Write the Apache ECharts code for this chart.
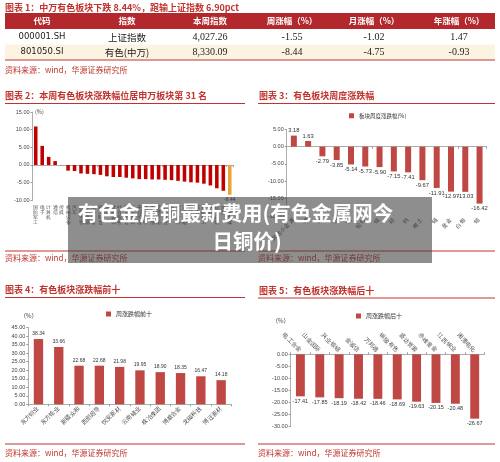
<!DOCTYPE html>
<html><head><meta charset="utf-8">
<script src="https://cdn.jsdelivr.net/npm/echarts@6/dist/echarts.min.js"></script>
<style>html,body{margin:0;padding:0;background:#fff}#c{width:500px;height:462px}</style>
</head><body><div id="c"></div>
<script>
// ---- data ----
const tableHeaders = ['代码', '指数', '本周指数', '周涨幅（%）', '月涨幅（%）', '年涨幅（%）'];
const tableRow1 = ['000001.SH', '上证指数', '4,027.26', '-1.55', '-1.02', '1.47'];
const tableRow2 = ['801050.SI', '有色(中万)', '8,330.09', '-8.44', '-4.75', '-0.93'];

const swNames = ['国防军工', '电子', '计算机', '通信', '传媒', '机械设备', '汽车', '医药生物', '家用电器', '电力设备', '轻工制造', '环保', '建筑装饰', '社会服务', '商贸零售', '纺织服饰', '美容护理', '食品饮料', '农林牧渔', '交通运输', '公用事业', '房地产', '建筑材料', '非银金融', '银行', '综合', '基础化工', '钢铁', '石油石化', '煤炭', '有色金属'];
const swValues = [10.9, 5.4, 2.3, 1.1, -0.05, -1.6, -1.7, -2.4, -2.5, -2.6, -2.8, -3.2, -3.4, -3.4, -3.6, -3.8, -4.0, -4.0, -4.1, -4.1, -4.2, -4.3, -4.5, -4.7, -4.9, -5.0, -5.3, -5.8, -6.6, -7.3, -8.44];

const subNames = ['其他小金属', '锂', '钴', '铝', '铜', '铅锌', '镍', '硅', '钨', '稀土', '锡', '黄金', '白银', '钼'];
const subValues = [3.18, 1.63, -2.79, -3.85, -5.14, -5.73, -5.90, -7.15, -7.41, -9.67, -11.91, -12.97, -13.03, -16.42];

const topNames = ['东方钽业', '东方锆业', '新疆众和', '西部超导', '悦安新材', '云南锗业', '株冶集团', '博威合金', '龙磁科技', '博迁新材'];
const topValues = [38.34, 33.66, 22.68, 22.68, 21.98, 19.95, 18.90, 18.35, 16.47, 14.18];

const bottomNames = ['电工合金', '山金国际', '兴业银锡', '金诚信', '万邦德', '铜陵有色', '盛达资源', '赤峰黄金', '江西铜业', '湘潭电化'];
const bottomValues = [-17.41, -17.85, -18.19, -18.42, -18.46, -18.69, -19.63, -20.15, -20.48, -26.67];

const titles = [
  '图表 1：中万有色板块下跌 8.44%，跑输上证指数 6.90pct',
  '图表 2：本周有色板块涨跌幅位居申万板块第 31 名',
  '图表 3：有色板块周度涨跌幅',
  '图表 4：有色板块涨跌幅前十',
  '图表 5：有色板块涨跌幅后十'
];
const sourceText = '资料来源：wind，华源证券研究所';
const overlayLines = ['有色金属铜最新费用(有色金属网今', '日铜价)'];

// ---- styles ----
const RED = '#c0332e';
const CJK = '"Noto Sans CJK SC", sans-serif';
const BAR_RED = '#bf4744';
const fmt2 = v => Number(v).toFixed(2);

const g = [];
function txt(x, y, text, opt) {
  g.push(Object.assign({type: 'text', x: x, y: y, style: Object.assign({text: text, fill: '#222', font: '8px ' + CJK, textVerticalAlign: 'middle'}, opt && opt.style || {})}, opt && opt.el || {}));
}
function hline(x1, x2, y, color, w) {
  g.push({type: 'line', shape: {x1: x1, y1: y, x2: x2, y2: y}, style: {stroke: color || RED, lineWidth: w || 1}});
}

// Table
txt(5, 7.5, titles[0], {style: {fill: RED, font: 'bold 9px ' + CJK}});
g.push({type: 'rect', shape: {x: 5, y: 13, width: 490, height: 16}, style: {fill: '#b3282d'}});
g.push({type: 'rect', shape: {x: 5, y: 44.5, width: 490, height: 15}, style: {fill: '#fdf3e1'}});
hline(5, 495, 60, RED, 1);
const colX = [42, 127, 210, 292, 374, 459];
tableHeaders.forEach((h, i) => txt(colX[i], 21, h, {style: {fill: '#fff', font: 'bold 8.5px ' + CJK, textAlign: 'center'}}));
[tableRow1, tableRow2].forEach((row, r) => {
  const y = r === 0 ? 37 : 52;
  row.forEach((v, i) => {
    let font = '10px "Liberation Serif", serif';
    if (i === 0) font = '8.5px "DejaVu Sans", sans-serif';
    if (i === 1) font = '9.5px ' + CJK;
    txt(colX[i], y, v, {style: {fill: '#222', font: font, textAlign: 'center'}});
  });
});
txt(5, 69.5, sourceText, {style: {fill: RED, font: '8px ' + CJK}});

// chart titles, lines, sources
txt(5, 96, titles[1], {style: {fill: RED, font: 'bold 9px ' + CJK}});
txt(259, 96, titles[2], {style: {fill: RED, font: 'bold 9px ' + CJK}});
hline(5, 245, 103.5); hline(258, 495, 103.5);
hline(5, 245, 251); hline(258, 495, 251);
txt(5, 258, sourceText, {style: {fill: RED, font: '8px ' + CJK}});
txt(258, 258, sourceText, {style: {fill: RED, font: '8px ' + CJK}});

txt(5, 290, titles[3], {style: {fill: RED, font: 'bold 9px ' + CJK}});
txt(259, 291, titles[4], {style: {fill: RED, font: 'bold 9px ' + CJK}});
hline(5, 245, 297.5); hline(258, 495, 298);
hline(5, 245, 444); hline(258, 495, 444);
txt(5, 453, sourceText, {style: {fill: RED, font: '8px ' + CJK}});
txt(258, 453, sourceText, {style: {fill: RED, font: '8px ' + CJK}});

// unit labels
txt(35, 112, '(%)', {style: {fill: '#444', font: '5.5px ' + CJK}});
txt(20, 316, '（%）', {style: {fill: '#444', font: '6px ' + CJK}});
txt(272, 321, '（%）', {style: {fill: '#444', font: '6px ' + CJK}});

// overlay
g.push({type: 'rect', z: 100, shape: {x: 68, y: 197, width: 364, height: 66}, style: {fill: 'rgba(60,60,60,0.58)'}});
g.push({type: 'text', z: 101, x: 78, y: 213.5, style: {text: overlayLines[0], fill: '#fff', font: 'bold 20.5px ' + CJK, textVerticalAlign: 'middle', textAlign: 'left'}});
g.push({type: 'text', z: 101, x: 247, y: 241, style: {text: overlayLines[1], fill: '#fff', font: 'bold 20.5px ' + CJK, textVerticalAlign: 'middle', textAlign: 'center'}});

const axisLineGray = {lineStyle: {color: '#999', width: 0.8}};
const yLabel = {fontSize: 5.5, color: '#444', margin: 3, formatter: fmt2};
const vertical = s => s.split('').join('\n');

function negLabel(values, size) {
  return values.map(v => ({value: v, label: {position: v < 0 ? 'bottom' : 'top'}}));
}

const option = {
  animation: false,
  backgroundColor: '#fff',
  graphic: {elements: g},
  legend: [
    {data: ['板块周度涨跌幅(%)'], left: 349, top: 113, itemWidth: 5, itemHeight: 5, itemGap: 2, textStyle: {fontSize: 5.5, color: '#333', fontFamily: CJK}, icon: 'rect', selectedMode: false, padding: 0},
    {data: ['周涨跌幅前十'], left: 106, top: 311, itemWidth: 5, itemHeight: 5, textStyle: {fontSize: 6, color: '#333', fontFamily: CJK}, icon: 'rect', selectedMode: false, padding: 0},
    {data: ['周涨跌幅后十'], left: 356, top: 313, itemWidth: 5, itemHeight: 5, textStyle: {fontSize: 6, color: '#333', fontFamily: CJK}, icon: 'rect', selectedMode: false, padding: 0}
  ],
  grid: [
    {left: 32.5, top: 112, width: 200.5, height: 88.3},
    {left: 286.7, top: 129.3, width: 200, height: 86.7},
    {left: 28.3, top: 327.7, width: 203, height: 76.6},
    {left: 290.7, top: 354.3, width: 193.7, height: 72.4}
  ],
  xAxis: [
    {gridIndex: 0, type: 'category', data: swNames, position: 'bottom', axisLine: Object.assign({onZero: true}, axisLineGray), axisTick: {show: true, length: 2, lineStyle: {color: '#999'}}, axisLabel: {show: false}},
    {gridIndex: 0, type: 'category', data: swNames, position: 'bottom', axisLine: {show: false, onZero: false}, axisTick: {show: false}, axisLabel: {interval: 0, fontSize: 4.6, lineHeight: 5, color: '#555', margin: 5, verticalAlign: 'top', formatter: v => vertical(v)}},
    {gridIndex: 1, type: 'category', data: subNames, position: 'bottom', axisLine: Object.assign({onZero: true}, axisLineGray), axisTick: {show: true, length: 2, lineStyle: {color: '#999'}}, axisLabel: {show: false}},
    {gridIndex: 1, type: 'category', data: subNames, position: 'bottom', axisLine: {show: false, onZero: false}, axisTick: {show: false}, axisLabel: {interval: 0, rotate: 45, fontSize: 5.5, color: '#444', margin: 3}},
    {gridIndex: 2, type: 'category', data: topNames, position: 'bottom', axisLine: axisLineGray, axisTick: {show: true, length: 2, lineStyle: {color: '#999'}}, axisLabel: {interval: 0, rotate: 45, fontSize: 5.8, color: '#444', margin: 3}},
    {gridIndex: 3, type: 'category', data: bottomNames, position: 'top', axisLine: Object.assign({onZero: false}, axisLineGray), axisTick: {show: true, length: 2, lineStyle: {color: '#999'}}, axisLabel: {interval: 0, rotate: 45, fontSize: 5.8, color: '#444', margin: 3}}
  ],
  yAxis: [
    {gridIndex: 0, type: 'value', min: -10, max: 15, interval: 5, axisLine: Object.assign({show: true}, axisLineGray), axisTick: {show: true, length: 2, lineStyle: {color: '#999'}}, splitLine: {show: false}, axisLabel: yLabel},
    {gridIndex: 1, type: 'value', min: -20, max: 5, interval: 5, axisLine: Object.assign({show: true}, axisLineGray), axisTick: {show: true, length: 2, lineStyle: {color: '#999'}}, splitLine: {show: false}, axisLabel: yLabel},
    {gridIndex: 2, type: 'value', min: 0, max: 45, interval: 5, axisLine: Object.assign({show: true}, axisLineGray), axisTick: {show: true, length: 2, lineStyle: {color: '#999'}}, splitLine: {show: false}, axisLabel: yLabel},
    {gridIndex: 3, type: 'value', min: -30, max: 0, interval: 5, axisLine: Object.assign({show: true}, axisLineGray), axisTick: {show: true, length: 2, lineStyle: {color: '#999'}}, splitLine: {show: false}, axisLabel: yLabel}
  ],
  series: [
    {name: 'sw', type: 'bar', xAxisIndex: 0, yAxisIndex: 0, barWidth: '55%',
      itemStyle: {color: '#c00000'},
      data: swValues.map((v, i) => i === swValues.length - 1
        ? {value: v, itemStyle: {color: '#e5a53a'}, label: {show: true, position: 'bottom', fontSize: 5, color: '#333', distance: 2, formatter: p => fmt2(p.value)}}
        : v)},
    {name: '板块周度涨跌幅(%)', type: 'bar', xAxisIndex: 2, yAxisIndex: 1, barWidth: '42%',
      itemStyle: {color: BAR_RED},
      label: {show: true, fontSize: 5.8, color: '#333', distance: 2, formatter: p => fmt2(p.value)},
      data: negLabel(subValues)},
    {name: '周涨跌幅前十', type: 'bar', xAxisIndex: 4, yAxisIndex: 2, barWidth: '46%',
      itemStyle: {color: BAR_RED},
      label: {show: true, position: 'top', fontSize: 5, color: '#333', distance: 3, formatter: p => fmt2(p.value)},
      data: topValues},
    {name: '周涨跌幅后十', type: 'bar', xAxisIndex: 5, yAxisIndex: 3, barWidth: '46%',
      itemStyle: {color: BAR_RED},
      label: {show: true, fontSize: 5.5, color: '#333', distance: 2, formatter: p => fmt2(p.value)},
      data: negLabel(bottomValues)}
  ]
};
const chart = echarts.init(document.getElementById('c'), null, {renderer: 'canvas'});
chart.setOption(option);
</script></body></html>
